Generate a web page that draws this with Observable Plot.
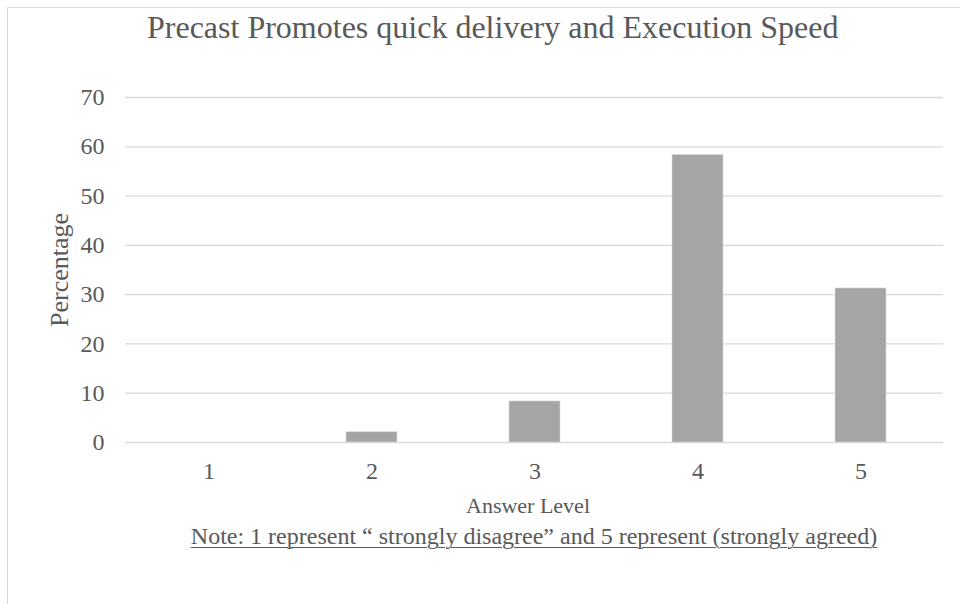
<!DOCTYPE html>
<html>
<head>
<meta charset="utf-8">
<script src="https://cdn.jsdelivr.net/npm/d3@7"></script>
<script src="https://cdn.jsdelivr.net/npm/@observablehq/plot@0.6"></script>
<style>
  html, body { margin: 0; padding: 0; background: #fff; }
  #wrap { position: relative; width: 960px; height: 604px; overflow: hidden; background: #fff;
          font-family: "Liberation Serif", "Times New Roman", serif; color: #595959; }
  #frame { position: absolute; left: 7px; top: 7px; width: 1000px; height: 700px;
           border-top: 1.5px solid #d9d9d9; border-left: 1.5px solid #d9d9d9; box-sizing: border-box; }
  #plot { position: absolute; left: 0; top: 0; }
  .txt { position: absolute; white-space: nowrap; line-height: 1; }
  #title { left: 147px; top: 11px; font-size: 32px; }
  #ylab { left: 60px; top: 270px; font-size: 26px; transform: translate(-50%, -50%) rotate(-90deg); }
  #xlab { left: 528px; top: 495px; font-size: 22px; transform: translateX(-50%); }
  #note { left: 534px; top: 524px; font-size: 24px; transform: translateX(-50%); text-decoration: underline; text-underline-offset: 3px; text-decoration-thickness: 1px; }
</style>
</head>
<body>
<div id="wrap">
  <div id="frame"></div>
  <div id="plot"></div>
  <div class="txt" id="title"></div>
  <div class="txt" id="ylab"></div>
  <div class="txt" id="xlab"></div>
  <div class="txt" id="note"></div>
</div>
<script>
const titleText = "Precast Promotes quick delivery and Execution Speed";
const yTitle = "Percentage";
const xTitle = "Answer Level";
const noteText = "Note: 1 represent \u201c strongly disagree\u201d and 5 represent (strongly agreed)";
const levels = ["1", "2", "3", "4", "5"];
const percentages = [0, 2.08, 8.33, 58.33, 31.25];
const yTicks = [0, 10, 20, 30, 40, 50, 60, 70];

const data = levels.map((l, i) => ({level: l, pct: percentages[i]}));

document.getElementById("title").textContent = titleText;
document.getElementById("ylab").textContent = yTitle;
document.getElementById("xlab").textContent = xTitle;
document.getElementById("note").textContent = noteText;

const chart = Plot.plot({
  width: 960,
  height: 604,
  marginTop: 97,
  marginBottom: 162,
  marginLeft: 125,
  marginRight: 17,
  style: {fontFamily: "Liberation Serif, Times New Roman, serif", color: "#595959", background: "transparent"},
  x: {type: "band", domain: levels, paddingInner: 0.69, paddingOuter: 0.345, label: null},
  y: {domain: [0, 70], label: null},
  marks: [
    Plot.gridY(yTicks, {stroke: "#d9d9d9", strokeOpacity: 1, strokeWidth: 1.3}),
    Plot.barY(data, {x: "level", y: "pct", fill: "#a5a5a5", stroke: "#d9d9d9", strokeWidth: 0.6}),
    Plot.axisY(yTicks, {tickSize: 0, tickPadding: 21, fontSize: 24, label: null}),
    Plot.axisX({tickSize: 0, tickPadding: 19, fontSize: 24, label: null})
  ]
});
document.getElementById("plot").appendChild(chart);
</script>
</body>
</html>
